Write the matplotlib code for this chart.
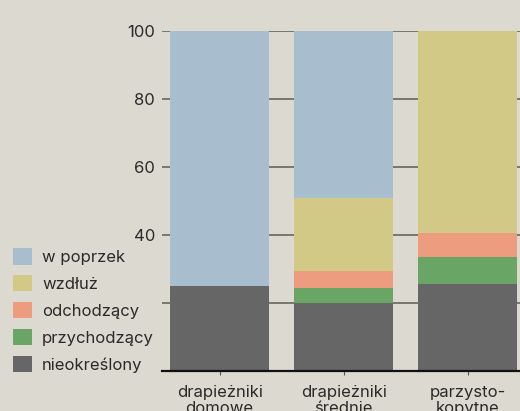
import numpy as np
import matplotlib
matplotlib.use("Agg")
import matplotlib.pyplot as plt
from matplotlib.patches import Patch

# data (percent)
categories = ['drapieżniki\ndomowe', 'drapieżniki\nśrednie', 'parzysto-\nkopytne']
series_names = ['nieokreślony', 'przychodzący', 'odchodzący', 'wzdłuż', 'w poprzek']
nieokreslony = [25, 20, 25.5]
przychodzacy = [0, 4.5, 8]
odchodzacy = [0, 5, 7]
wzdluz = [0, 21.5, 59.5]
w_poprzek = [75, 49, 0]
yticks = [0, 20, 40, 60, 80, 100]

colors = ['#666666', '#69a564', '#ee9c80', '#d2c986', '#a8bece']
BG = '#dcdad0'

plt.rcParams['font.family'] = ['Inter', 'DejaVu Sans']
plt.rcParams['font.size'] = 12

fig = plt.figure(figsize=(5.2, 4.11), dpi=100, facecolor=BG)
ax = fig.add_axes([162 / 520, 40 / 411, 364 / 520, 340 / 411])
ax.set_facecolor(BG)

x = np.arange(len(categories))
bottom = np.zeros(len(categories))
for vals, c in zip([nieokreslony, przychodzacy, odchodzacy, wzdluz, w_poprzek], colors):
    ax.bar(x, vals, width=0.8, bottom=bottom, color=c, zorder=3)
    bottom += np.array(vals)

ax.set_xlim(-0.464, 2.47)
ax.set_ylim(0, 100)
ax.set_yticks(yticks)
ax.set_yticklabels(['' if v == 0 else str(v) for v in yticks], color='#2a2a2a')
ax.tick_params(axis='y', length=0, pad=5)
ax.set_xticks(x)
ax.set_xticklabels(categories, color='#2a2a2a', linespacing=1.1)
ax.tick_params(axis='x', length=3, width=0.8, color='#555555', pad=7)
ax.grid(axis='y', color='#666660', linewidth=1.2, zorder=1)
ax.axhline(0, color='#111111', linewidth=1.6, zorder=4, clip_on=False)
for s in ax.spines.values():
    s.set_visible(False)

handles = [Patch(facecolor=c, edgecolor='none') for c in colors][::-1]
leg = fig.legend(handles, series_names[::-1], loc='upper left',
                 bbox_to_anchor=(13 / 520, 1 - 248 / 411), frameon=True,
                 facecolor=BG, edgecolor='none', framealpha=1, borderpad=0,
                 borderaxespad=0, handlelength=1.15, handleheight=1.15,
                 labelspacing=0.6, handletextpad=0.6, fontsize=12)
for t in leg.get_texts():
    t.set_color('#2a2a2a')

fig.savefig('out.png', dpi=100, facecolor=BG)
